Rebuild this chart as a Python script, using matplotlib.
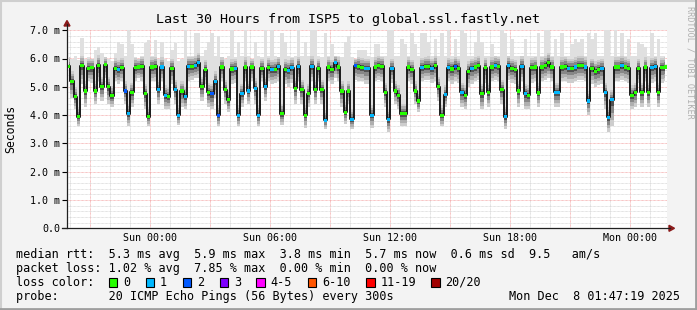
import numpy as np
import matplotlib
matplotlib.use('Agg')
import matplotlib.pyplot as plt
from matplotlib.patches import Rectangle, Polygon
from matplotlib.lines import Line2D

W, H = 697, 310

# median rtt (ms), one value per 10 minutes in 4 strips
median_a = [5.72, 5.20, 4.65, 3.95, 5.75, 4.85, 5.65, 5.67, 4.85, 5.76,
            5.00, 5.78, 5.00, 4.68, 5.66, 5.60, 5.68, 4.85, 4.05, 4.80,
            5.68, 5.70, 5.72, 4.75, 3.95, 5.70, 5.72, 4.90, 5.70, 4.70,
            4.65, 5.65, 4.90, 4.00, 4.85, 4.65, 5.72, 5.72, 5.75, 5.85,
            5.00, 5.60, 4.80, 4.75, 5.20]
median_b = [4.00, 5.70, 4.90, 4.55, 5.63, 5.65, 4.00, 4.75, 5.70, 4.85,
            5.70, 4.95, 4.00, 5.65, 5.00, 5.68, 5.60, 5.62, 5.72, 4.05,
            5.62, 5.58, 5.68, 4.95, 5.72, 4.90, 4.00, 4.75, 5.73, 4.90,
            5.65, 4.90, 3.82, 5.70, 5.60, 5.85, 5.70, 4.85, 4.10, 4.85,
            3.85, 5.75, 5.72, 5.68, 5.65]
median_c = [5.65, 4.00, 5.70, 5.75, 5.72, 4.80, 3.85, 5.65, 4.85, 4.70,
            4.05, 4.05, 5.70, 5.60, 4.85, 4.50, 5.68, 5.72, 5.73, 5.65,
            5.75, 5.00, 4.00, 4.72, 5.68, 5.63, 5.72, 5.65, 4.80, 4.70,
            5.55, 5.65, 5.70, 5.75, 4.75, 5.68, 4.80, 5.70, 5.75, 5.72,
            4.90, 3.95, 5.75, 5.65, 5.60]
median_d = [4.85, 5.73, 4.75, 4.70, 5.68, 5.70, 4.78, 5.70, 5.75, 5.85,
            5.70, 4.80, 4.80, 5.70, 5.72, 5.65, 5.65, 5.70, 5.75, 5.75,
            5.70, 4.50, 5.65, 5.55, 5.60, 5.65, 4.80, 3.92, 4.55, 5.70,
            5.70, 5.75, 5.70, 5.65, 4.70, 4.80, 5.65, 4.80, 5.70, 4.80,
            5.68, 5.72, 4.80, 5.68, 5.70]

# slowest ping of each step (ms)
high_a = [6.05, 6.00, 6.10, 5.95, 6.72, 6.00, 6.05, 6.00, 6.30, 6.42,
          6.20, 6.05, 6.00, 5.90, 6.20, 6.60, 6.50, 6.10, 7.10, 6.50,
          6.05, 6.00, 6.10, 6.55, 6.65, 6.10, 6.65, 6.00, 6.60, 6.00,
          5.90, 6.30, 6.55, 5.90, 6.00, 7.10, 6.10, 6.10, 6.90, 6.90,
          6.10, 6.30, 6.60, 6.90, 6.10]
high_b = [6.80, 6.05, 6.00, 6.10, 7.10, 6.05, 6.60, 6.10, 7.10, 6.10,
          6.00, 6.60, 6.10, 6.05, 7.00, 6.10, 7.10, 6.10, 6.05, 6.90,
          6.60, 6.10, 6.05, 6.10, 7.10, 6.10, 6.60, 6.10, 7.10, 7.10,
          6.10, 6.05, 6.90, 6.10, 6.50, 6.10, 6.10, 6.05, 6.60, 6.80,
          6.05, 6.00, 6.30, 6.30, 6.30]
high_c = [6.10, 6.05, 6.50, 6.50, 6.10, 6.10, 7.10, 7.10, 6.10, 6.10,
          6.70, 6.50, 6.10, 6.90, 6.50, 6.10, 6.90, 6.90, 6.60, 6.10,
          6.70, 6.10, 6.90, 6.10, 7.10, 6.10, 6.70, 6.10, 7.10, 6.90,
          6.10, 6.10, 6.60, 7.10, 6.60, 6.10, 6.10, 6.50, 6.10, 6.10,
          7.10, 6.90, 6.10, 6.70, 6.10]
high_d = [6.10, 6.10, 6.70, 6.10, 6.10, 6.10, 6.90, 6.10, 7.10, 7.10,
          6.10, 6.70, 6.10, 6.90, 6.10, 6.10, 6.50, 6.70, 6.60, 6.70,
          6.10, 6.90, 6.70, 6.90, 6.10, 6.10, 7.10, 7.10, 6.10, 7.00,
          6.10, 6.90, 6.10, 6.70, 6.10, 6.10, 6.60, 6.50, 6.40, 6.10,
          6.90, 6.10, 6.70, 6.10, 6.10]

# fastest ping of each step (ms)
low_a = [5.20, 4.60, 4.20, 3.60, 5.10, 4.30, 5.20, 5.15, 4.40, 5.20,
         4.50, 5.30, 4.40, 4.30, 5.20, 5.10, 5.20, 4.40, 3.60, 4.30,
         5.20, 5.30, 5.20, 4.20, 3.60, 5.20, 5.20, 4.40, 5.20, 4.20,
         4.20, 5.10, 4.40, 3.65, 4.30, 4.20, 5.20, 5.25, 5.30, 5.30,
         4.50, 5.10, 4.30, 4.20, 4.60]
low_b = [3.60, 5.20, 4.40, 4.10, 5.10, 5.15, 3.60, 4.30, 5.20, 4.40,
         5.20, 4.40, 3.60, 5.20, 4.50, 5.20, 5.10, 5.15, 5.20, 3.65,
         5.10, 5.00, 5.15, 4.40, 5.20, 4.40, 3.55, 4.30, 5.20, 4.40,
         5.20, 4.40, 3.50, 5.20, 5.10, 5.30, 5.20, 4.30, 3.70, 4.40,
         3.50, 5.25, 5.20, 5.20, 5.10]
low_c = [5.10, 3.55, 5.20, 5.25, 5.20, 4.30, 3.40, 5.15, 4.40, 4.20,
         3.60, 3.60, 5.20, 5.10, 4.40, 4.10, 5.20, 5.25, 5.25, 5.15,
         5.20, 4.50, 3.60, 4.30, 5.20, 5.10, 5.20, 5.15, 4.30, 4.20,
         5.00, 5.10, 5.20, 5.25, 4.20, 5.15, 4.30, 5.20, 5.25, 5.20,
         4.40, 3.50, 5.25, 5.15, 5.10]
low_d = [4.30, 5.20, 4.20, 4.20, 5.15, 5.20, 4.30, 5.20, 5.25, 5.30,
         5.20, 4.30, 4.30, 5.20, 5.20, 5.15, 5.15, 5.20, 5.25, 5.25,
         5.20, 4.00, 5.10, 5.00, 5.05, 5.10, 4.20, 3.40, 3.60, 5.20,
         5.20, 5.25, 5.20, 5.15, 4.20, 4.30, 5.15, 4.30, 5.20, 4.30,
         5.15, 5.20, 4.30, 5.15, 5.20]

# lost pings (of 20) per step
loss_a = [0, 0, 0, 0, 0, 0, 0, 0, 0, 0, 0, 0, 0, 0, 0, 1, 0, 2, 1, 0,
          0, 0, 0, 0, 0, 0, 0, 1, 1, 1, 0, 0, 1, 1, 0, 1, 1, 0, 1, 1,
          0, 0, 0, 2, 1]
loss_b = [2, 0, 0, 0, 0, 1, 1, 1, 0, 1, 0, 1, 1, 0, 1, 0, 1, 0, 1, 0,
          0, 1, 1, 0, 1, 0, 0, 0, 1, 0, 0, 0, 1, 0, 0, 1, 0, 0, 0, 0,
          1, 2, 0, 0, 1]
loss_c = [1, 1, 0, 0, 0, 0, 1, 1, 0, 0, 0, 0, 0, 0, 0, 0, 1, 0, 0, 1,
          0, 0, 0, 1, 1, 0, 2, 0, 1, 0, 0, 1, 0, 0, 0, 0, 0, 0, 1, 0,
          0, 1, 1, 0, 0]
loss_d = [0, 1, 1, 0, 0, 0, 0, 0, 0, 0, 0, 1, 1, 0, 0, 1, 0, 1, 0, 0,
          1, 1, 0, 0, 0, 1, 1, 1, 1, 0, 0, 1, 0, 0, 0, 0, 0, 0, 0, 0,
          1, 1, 0, 0, 0]

loss_labels = ['0', '1', '2', '3', '4-5', '6-10', '11-19', '20/20']
loss_colors = ['#26ff00', '#00b8ff', '#0059ff', '#7e00ff',
               '#ff00ff', '#ff5500', '#ff0000', '#a10000']

hour_ticks = [0, 6, 12, 18, 24]
hour_labels = ['Sun 00:00', 'Sun 06:00', 'Sun 12:00', 'Sun 18:00', 'Mon 00:00']

stats_rtt = 'median rtt:  5.3 ms avg  5.9 ms max  3.8 ms min  5.7 ms now  0.6 ms sd  9.5   am/s'
stats_loss = 'packet loss: 1.02 % avg  7.85 % max  0.00 % min  0.00 % now'
probe_text = 'probe:       20 ICMP Echo Pings (56 Bytes) every 300s'
stamp_text = 'Mon Dec  8 01:47:19 2025'

median = np.array(median_a + median_b + median_c + median_d)
high = np.array(high_a + high_b + high_c + high_d)
low = np.array(low_a + low_b + low_c + low_d)
loss = np.array(loss_a + loss_b + loss_c + loss_d)

# hours relative to Sun 00:00, 10 min steps
t_start, t_end = -4.15, 25.85
step = 1 / 6
t = t_start + step / 2 + step * np.arange(len(median))


def fx(x):
    return x / W


def fy(y):
    return 1 - y / H


plt.rcParams['font.family'] = ['DejaVu Sans Mono']
fig = plt.figure(figsize=(W / 100, H / 100), dpi=100, facecolor='#f3f3f3')
ax = fig.add_axes([fx(67), fy(228.3), 600 / W, 198.1 / H])
ax.set_facecolor('white')
ax.set_xlim(t_start, t_end)
ax.set_ylim(0, 7.0)

# grid
dots = dict(lw=0.6, dashes=(0.8, 0.8), zorder=0)
for h in np.arange(-4, 26):
    red = (h % 3 == 0)
    ax.axvline(h, color='#f29a9a' if red else '#cfcfcf', **dots)
for v in np.arange(0.2, 7.01, 0.2):
    red = abs(v - round(v)) < 1e-6
    ax.axhline(v, color='#f29a9a' if red else '#cfcfcf', **dots)

# smoke
ax.fill_between(t, low, high, step='mid', color='#e0e0e0', lw=0, zorder=1)
core = np.minimum(high, median + 0.35)
for f, c in [(1.0, '#cdcdcd'), (0.75, '#afafaf'), (0.5, '#878787'), (0.25, '#505050')]:
    ax.fill_between(t, median - f * (median - low), median + f * (core - median),
                    step='mid', color=c, lw=0, zorder=2)

# median line and loss colours
ax.plot(t, median, drawstyle='steps-mid', color='#1a1a1a', lw=1.4, zorder=3)
ax.scatter(t, median, c=[loss_colors[min(l, 7)] for l in loss], marker='s',
           s=5, lw=0, zorder=4)

ax.set_yticks(np.arange(0, 8))
ax.set_yticklabels(['0.0'] + ['%.1f m' % v for v in range(1, 8)])
ax.set_xticks(hour_ticks)
ax.set_xticklabels(hour_labels)
ax.tick_params(axis='x', length=0, pad=3.6, labelsize=7.2)
ax.tick_params(axis='y', length=3.5, width=0.8, pad=1.5, labelsize=7.2)
for s in ax.spines.values():
    s.set_visible(False)

# axes with arrows
fig.add_artist(Line2D([fx(67), fx(67)], [fy(228.3), fy(24)], color='#202020', lw=0.9))
fig.add_artist(Line2D([fx(62), fx(670)], [fy(228.3), fy(228.3)], color='#202020', lw=0.9))
fig.add_artist(Polygon([(fx(64), fy(26)), (fx(70), fy(26)), (fx(67), fy(20.5))],
                       closed=True, color='#8b1a1a', transform=fig.transFigure))
fig.add_artist(Polygon([(fx(669), fy(225.3)), (fx(669), fy(231.3)), (fx(674.5), fy(228.3))],
                       closed=True, color='#8b1a1a', transform=fig.transFigure))

fig.text(0.5, fy(19), 'Last 30 Hours from ISP5 to global.ssl.fastly.net',
         ha='center', va='center', fontsize=9.6)
fig.text(fx(11), fy(129), 'Seconds', rotation=90, ha='center', va='center', fontsize=8.3)
fig.text(fx(690), fy(6), 'RRDTOOL / TOBI OETIKER', rotation=270, ha='center', va='top',
         fontsize=6.1, color='#b0b0b0')

fs = 8.5
fig.text(fx(16), fy(254.3), stats_rtt, va='center', fontsize=fs)
fig.text(fx(16), fy(268.3), stats_loss, va='center', fontsize=fs)
fig.text(fx(16), fy(282.3), 'loss color:', va='center', fontsize=fs)
box_x = [108.5, 145.5, 182.5, 219.5, 256, 307.5, 366, 431]
for bx, lab, col in zip(box_x, loss_labels, loss_colors):
    fig.add_artist(Rectangle((fx(bx), fy(286.5)), 8.5 / W, 8.5 / H, transform=fig.transFigure,
                             fc=col, ec='black', lw=0.8))
    fig.text(fx(bx + 14.5), fy(282.3), lab, va='center', fontsize=fs)
fig.text(fx(16), fy(296.3), probe_text, va='center', fontsize=fs)
fig.text(fx(680), fy(296.3), stamp_text, ha='right', va='center', fontsize=fs)

# frame shading
fig.add_artist(Line2D([fx(0.5), fx(0.5)], [0, 1], color='#cfcfcf', lw=1.5))
fig.add_artist(Line2D([0, 1], [fy(0.5), fy(0.5)], color='#cfcfcf', lw=1.5))
fig.add_artist(Line2D([fx(696), fx(696)], [0, 1], color='#9e9e9e', lw=2))
fig.add_artist(Line2D([0, 1], [fy(309), fy(309)], color='#9e9e9e', lw=2))

fig.savefig('out.png', dpi=100, facecolor=fig.get_facecolor())
